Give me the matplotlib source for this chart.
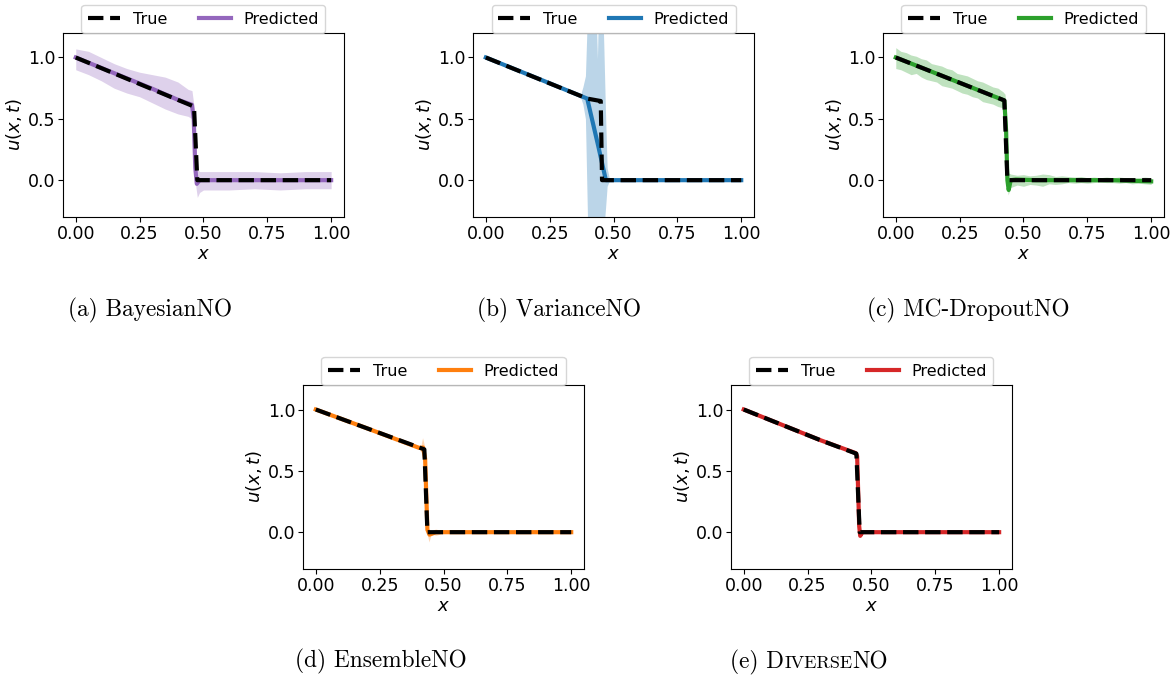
import numpy as np
import matplotlib
matplotlib.use("Agg")
import matplotlib.pyplot as plt

# ---- data ----
# (a) BayesianNO
true_a_x = [0.0, 0.463, 0.476, 1.0]
true_a_u = [1.0, 0.60, 0.0, 0.0]
pred_a_x = [0.0, 0.1, 0.2, 0.3, 0.4, 0.455, 0.462, 0.468, 0.474, 0.485, 0.6, 0.8, 1.0]
pred_a_u = [1.0, 0.915, 0.83, 0.745, 0.655, 0.615, 0.50, 0.10, -0.03, 0.0, 0.0, 0.0, 0.0]
band_a_x = [0.0, 0.05, 0.1, 0.15, 0.2, 0.25, 0.3, 0.35, 0.4, 0.44, 0.455, 0.462, 0.47, 0.476,
            0.485, 0.5, 0.6, 0.7, 0.8, 0.9, 1.0]
band_a_hi = [1.07, 1.05, 1.00, 0.95, 0.91, 0.88, 0.86, 0.84, 0.80, 0.74, 0.73, 0.62, 0.30, 0.09,
             0.07, 0.07, 0.07, 0.07, 0.06, 0.07, 0.07]
band_a_lo = [0.90, 0.86, 0.81, 0.75, 0.71, 0.68, 0.63, 0.58, 0.54, 0.52, 0.50, 0.30, -0.05, -0.14,
             -0.10, -0.08, -0.08, -0.07, -0.08, -0.07, -0.07]

# (b) VarianceNO
true_b_x = [0.0, 0.397, 0.45, 0.455, 1.0]
true_b_u = [1.0, 0.665, 0.645, 0.0, 0.0]
pred_b_x = [0.0, 0.2, 0.397, 0.44, 0.47, 0.6, 1.0]
pred_b_u = [1.0, 0.832, 0.665, 0.28, 0.0, 0.0, 0.0]
band_b_x = [0.37, 0.38, 0.39, 0.40, 0.415, 0.43, 0.437, 0.445, 0.455, 0.462, 0.468, 0.475, 0.485]
band_b_hi = [0.69, 0.76, 0.85, 1.5, 2.0, 1.5, 0.99, 1.8, 1.6, 1.1, 0.6, 0.1, 0.0]
band_b_lo = [0.68, 0.62, 0.50, -0.5, -0.9, -0.9, -0.8, -0.8, -0.6, -0.4, -0.25, -0.05, 0.0]

# (c) MC-DropoutNO
true_c_x = [0.0, 0.425, 0.437, 1.0]
true_c_u = [1.0, 0.65, 0.0, 0.0]
pred_c_x = [0.0, 0.1, 0.2, 0.3, 0.425, 0.432, 0.437, 0.442, 0.45, 0.47, 0.55, 0.7, 0.85, 1.0]
pred_c_u = [1.0, 0.918, 0.835, 0.753, 0.65, 0.40, 0.0, -0.08, 0.0, 0.005, 0.0, 0.0, 0.0, -0.01]
band_c_x = [0.0, 0.02, 0.04, 0.06, 0.08, 0.10, 0.12, 0.14, 0.16, 0.18, 0.20, 0.22, 0.24, 0.26,
            0.28, 0.30, 0.32, 0.34, 0.36, 0.38, 0.40, 0.42, 0.428, 0.434, 0.44, 0.45, 0.475,
            0.50, 0.525, 0.55, 0.575, 0.60, 0.625, 0.65, 0.675, 0.70, 0.725, 0.75, 0.775, 0.80,
            0.825, 0.85, 0.875, 0.90, 0.925, 0.95, 0.975, 1.0]
band_c_hi = [1.08, 1.05, 1.04, 1.02, 1.01, 0.99, 0.98, 0.95, 0.94, 0.93, 0.91, 0.90, 0.87, 0.86,
             0.85, 0.83, 0.81, 0.80, 0.78, 0.76, 0.75, 0.72, 0.70, 0.45, 0.06, 0.05, 0.04,
             0.045, 0.035, 0.04, 0.05, 0.045, 0.03, 0.035, 0.03, 0.025, 0.03, 0.02, 0.025, 0.02,
             0.025, 0.02, 0.025, 0.02, 0.015, 0.02, 0.025, 0.02]
band_c_lo = [0.91, 0.90, 0.88, 0.86, 0.87, 0.84, 0.82, 0.81, 0.80, 0.77, 0.76, 0.75, 0.73, 0.71,
             0.70, 0.68, 0.67, 0.64, 0.63, 0.62, 0.60, 0.59, 0.30, -0.02, -0.12, -0.06, -0.04,
             -0.05, -0.035, -0.04, -0.05, -0.03, -0.035, -0.03, -0.02, -0.025, -0.02, -0.025,
             -0.02, -0.015, -0.02, -0.02, -0.025, -0.02, -0.03, -0.025, -0.03, -0.035]

# (d) EnsembleNO
true_d_x = [0.0, 0.425, 0.437, 1.0]
true_d_u = [1.0, 0.675, 0.0, 0.0]
pred_d_x = [0.0, 0.2, 0.405, 0.42, 0.428, 0.437, 0.445, 0.47, 0.6, 1.0]
pred_d_u = [1.0, 0.847, 0.687, 0.69, 0.60, 0.02, -0.02, 0.0, 0.0, 0.0]
band_d_x = [0.40, 0.41, 0.418, 0.425, 0.43, 0.437, 0.443, 0.45, 0.46, 0.47, 0.48, 0.49, 0.5]
band_d_hi = [0.695, 0.69, 0.77, 0.71, 0.45, 0.04, 0.01, 0.01, 0.02, 0.025, 0.02, 0.01, 0.0]
band_d_lo = [0.69, 0.66, 0.65, 0.62, 0.30, -0.02, -0.08, -0.03, -0.02, -0.025, -0.02, -0.01, 0.0]

# (e) DiverseNO
true_e_x = [0.0, 0.3, 0.441, 0.454, 1.0]
true_e_u = [1.0, 0.75, 0.64, 0.0, 0.0]
pred_e_x = [0.0, 0.3, 0.438, 0.444, 0.452, 0.456, 0.465, 1.0]
pred_e_u = [1.0, 0.75, 0.645, 0.62, 0.05, -0.03, 0.0, 0.0]
band_e_x = [0.43, 0.438, 0.444, 0.452, 0.456, 0.462, 0.47]
band_e_hi = [0.655, 0.665, 0.64, 0.08, 0.0, 0.01, 0.0]
band_e_lo = [0.645, 0.63, 0.60, 0.02, -0.045, -0.01, 0.0]

panels = [
    ("(a) ", "BayesianNO", "tab:purple", true_a_x, true_a_u, pred_a_x, pred_a_u, band_a_x, band_a_lo, band_a_hi),
    ("(b) ", "VarianceNO", "tab:blue", true_b_x, true_b_u, pred_b_x, pred_b_u, band_b_x, band_b_lo, band_b_hi),
    ("(c) ", "MC-DropoutNO", "tab:green", true_c_x, true_c_u, pred_c_x, pred_c_u, band_c_x, band_c_lo, band_c_hi),
    ("(d) ", "EnsembleNO", "tab:orange", true_d_x, true_d_u, pred_d_x, pred_d_u, band_d_x, band_d_lo, band_d_hi),
    ("(e) ", None, "tab:red", true_e_x, true_e_u, pred_e_x, pred_e_u, band_e_x, band_e_lo, band_e_hi),
]

# axes placement (figure fractions) and caption centres
axes_pos = [
    [0.0536, 0.6814, 0.2391, 0.2702],
    [0.4026, 0.6814, 0.2391, 0.2702],
    [0.7515, 0.6814, 0.2391, 0.2702],
    [0.2579, 0.1645, 0.2391, 0.2702],
    [0.6221, 0.1645, 0.2391, 0.2702],
]
caption_xy = [(0.1277, 0.544), (0.4757, 0.544), (0.8238, 0.544), (0.3243, 0.028), (0.6885, 0.028)]

fig = plt.figure(figsize=(11.75, 6.81), dpi=100)

for i, (tag, name, col, tx, tu, px, pu, bx, blo, bhi) in enumerate(panels):
    ax = fig.add_axes(axes_pos[i])
    ax.fill_between(bx, blo, bhi, color=col, alpha=0.3, linewidth=0)
    lp, = ax.plot(px, pu, color=col, lw=3, label="Predicted")
    lt, = ax.plot(tx, tu, color="black", lw=3, ls="--", label="True")
    ax.set_ylim(-0.3, 1.2)
    ax.set_xticks([0, 0.25, 0.5, 0.75, 1.0])
    ax.set_yticks([0.0, 0.5, 1.0])
    ax.tick_params(labelsize=12.5, pad=2)
    ax.set_xlabel("$x$", fontsize=13, labelpad=2)
    ax.set_ylabel("$u(x,t)$", fontsize=13, labelpad=3)
    ax.legend(handles=[lt, lp], loc="lower center", bbox_to_anchor=(0.5, 1.0),
              ncol=2, fontsize=11.5, borderaxespad=0)

# captions in Computer Modern
cap_size = 16.8
renderer = fig.canvas.get_renderer()
for i, (tag, name, *_rest) in enumerate(panels):
    cx, cy = caption_xy[i]
    if name is not None:
        fig.text(cx, cy, tag + name, fontfamily="cmr10", fontsize=cap_size,
                 ha="center", va="center")
    else:
        # small caps "Diverse"
        parts = [(tag + "D", cap_size), ("IVERSE", cap_size * 0.78), ("NO", cap_size)]
        texts = [fig.text(0, cy, s, fontfamily="cmr10", fontsize=sz, ha="left", va="baseline")
                 for s, sz in parts]
        widths = [t.get_window_extent(renderer).width / fig.bbox.width for t in texts]
        x = cx - sum(widths) / 2
        for t, w in zip(texts, widths):
            t.set_x(x)
            t.set_y(cy - 0.009)
            x += w

fig.savefig("out.png", dpi=100)
